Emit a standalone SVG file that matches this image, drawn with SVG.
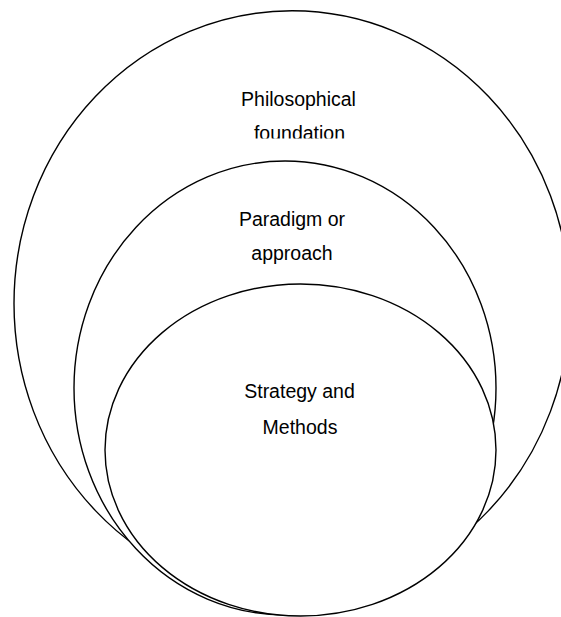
<svg xmlns="http://www.w3.org/2000/svg" width="561" height="617" viewBox="0 0 561 617">
  <style>
    .ring { fill: #ffffff; stroke: #000000; stroke-width: 1.4; }
    .lbl { font-family: "Liberation Sans", Arial, sans-serif; font-size: 19.5px; fill: #000000; text-anchor: middle; }
  </style>
  <defs>
    <clipPath id="clipOuterText">
      <rect x="0" y="0" width="561" height="138.5"/>
    </clipPath>
  </defs>
  <rect x="0" y="0" width="561" height="617" fill="#ffffff"/>
  <g id="outer">
    <ellipse class="ring" cx="292" cy="303.6" rx="278" ry="292.8"/>
    <g clip-path="url(#clipOuterText)">
      <text class="lbl" x="298.5" y="106">Philosophical</text>
      <text class="lbl" x="299.5" y="140">foundation</text>
    </g>
  </g>
  <g id="middle">
    <ellipse class="ring" cx="285" cy="388" rx="211" ry="227"/>
    <text class="lbl" x="292" y="225.5">Paradigm or</text>
    <text class="lbl" x="292" y="259.5">approach</text>
  </g>
  <g id="inner">
    <ellipse class="ring" cx="300.5" cy="450" rx="195.5" ry="166"/>
    <text class="lbl" x="299.5" y="397.5">Strategy and</text>
    <text class="lbl" x="300" y="433.5">Methods</text>
  </g>
  <g id="connectors"></g>
</svg>
